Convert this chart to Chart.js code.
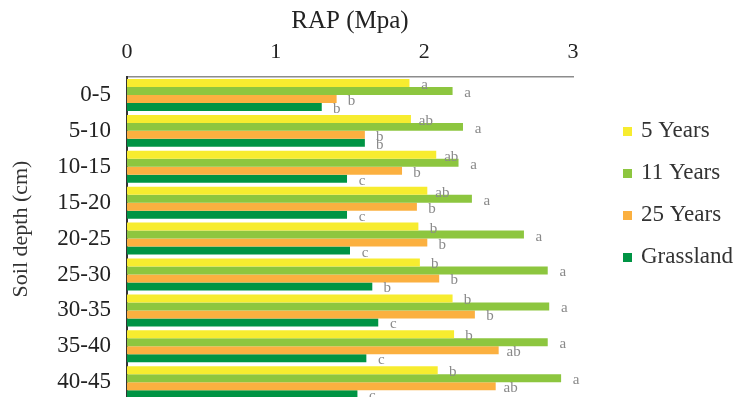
<!DOCTYPE html>
<html>
<head>
<meta charset="utf-8">
<script src="https://cdn.jsdelivr.net/npm/chart.js@4.4.1/dist/chart.umd.min.js"></script>
<style>
  html, body { margin: 0; padding: 0; overflow: hidden; background: #fff; }
  #wrap { width: 740px; height: 430px; }
</style>
</head>
<body>
<div id="wrap"><canvas id="c" width="740" height="430"></canvas></div>
<script>
// Soil depth classes (cm)
const depths = ['0-5', '5-10', '10-15', '15-20', '20-25', '25-30', '30-35', '35-40', '40-45'];

// Root penetration resistance (RAP, MPa) per land-use age
const years5    = [1.90, 1.91, 2.08, 2.02, 1.96, 1.97, 2.19, 2.20, 2.09];
const years11   = [2.19, 2.26, 2.23, 2.32, 2.67, 2.83, 2.84, 2.83, 2.92];
const years25   = [1.41, 1.60, 1.85, 1.95, 2.02, 2.10, 2.34, 2.50, 2.48];
const grassland = [1.31, 1.60, 1.48, 1.48, 1.50, 1.65, 1.69, 1.61, 1.55];

// Significance letters for each bar
const letters5     = ['a', 'ab', 'ab', 'ab', 'b', 'b', 'b', 'b', 'b'];
const letters11    = ['a', 'a', 'a', 'a', 'a', 'a', 'a', 'a', 'a'];
const letters25    = ['b', 'b', 'b', 'b', 'b', 'b', 'b', 'ab', 'ab'];
const lettersGrass = ['b', 'b', 'c', 'c', 'c', 'b', 'c', 'c', 'c'];

const seriesNames = ['5 Years', '11 Years', '25 Years', 'Grassland'];
const xTicks = [0, 1, 2, 3];

const SERIF = "'Liberation Serif', 'DejaVu Serif', serif";
const colors = ['#F7EC2F', '#8DC63F', '#FBB040', '#009444'];
const letterSets = [letters5, letters11, letters25, lettersGrass];

// Draws the significance letters just right of each bar end
const letterPlugin = {
  id: 'letters',
  afterDatasetsDraw(chart) {
    const ctx = chart.ctx;
    ctx.save();
    ctx.font = '15px ' + SERIF;
    ctx.fillStyle = '#8a8a8a';
    ctx.textAlign = 'center';
    ctx.textBaseline = 'middle';
    chart.data.datasets.forEach((ds, i) => {
      const meta = chart.getDatasetMeta(i);
      meta.data.forEach((bar, j) => {
        ctx.fillText(letterSets[i][j], bar.x + 15, bar.y + 2);
      });
    });
    ctx.restore();
  }
};

// Legend on the right and rotated y-axis title
const sidePlugin = {
  id: 'side',
  afterDraw(chart) {
    const ctx = chart.ctx;
    ctx.save();
    ctx.font = '23px ' + SERIF;
    ctx.textBaseline = 'middle';
    ctx.textAlign = 'left';
    const rows = [131, 173, 215, 257];
    chart.data.datasets.forEach((ds, i) => {
      ctx.fillStyle = ds.backgroundColor;
      ctx.fillRect(623, rows[i] - 4, 9, 9);
      ctx.fillStyle = '#333';
      ctx.fillText(ds.label, 641, rows[i]);
    });
    ctx.font = '22px ' + SERIF;
    ctx.translate(21, 229);
    ctx.rotate(-Math.PI / 2);
    ctx.textAlign = 'center';
    ctx.fillText('Soil depth (cm)', 0, 0);
    ctx.restore();
  }
};

const seriesValues = [years5, years11, years25, grassland];

new Chart(document.getElementById('c'), {
  type: 'bar',
  data: {
    labels: depths,
    datasets: seriesValues.map((vals, i) => ({
      label: seriesNames[i],
      data: vals,
      backgroundColor: colors[i],
      borderWidth: 0,
      barPercentage: 1,
      categoryPercentage: 0.89
    }))
  },
  options: {
    indexAxis: 'y',
    responsive: false,
    animation: false,
    layout: { padding: { left: 0, right: 167, top: 0, bottom: 0 } },
    plugins: {
      legend: { display: false },
      tooltip: { enabled: false }
    },
    scales: {
      x: {
        position: 'top',
        min: 0,
        max: 3,
        afterBuildTicks(scale) { scale.ticks = xTicks.map(v => ({ value: v })); },
        ticks: { font: { family: SERIF, size: 22 }, color: '#222', padding: 12 },
        grid: { display: false, drawTicks: false },
        border: { display: true, color: '#8c8c8c', width: 1.5 },
        title: {
          display: true,
          text: 'RAP (Mpa)',
          font: { family: SERIF, size: 25 },
          color: '#222',
          padding: { top: 6, bottom: 0 }
        },
        afterFit(scale) { scale.height = 77; }
      },
      y: {
        ticks: { font: { family: SERIF, size: 23 }, color: '#222', padding: 16 },
        grid: { display: false, drawTicks: false },
        border: { display: true, color: '#333', width: 2 },
        afterFit(scale) { scale.width = 127; }
      }
    }
  },
  plugins: [letterPlugin, sidePlugin]
});
</script>
</body>
</html>
